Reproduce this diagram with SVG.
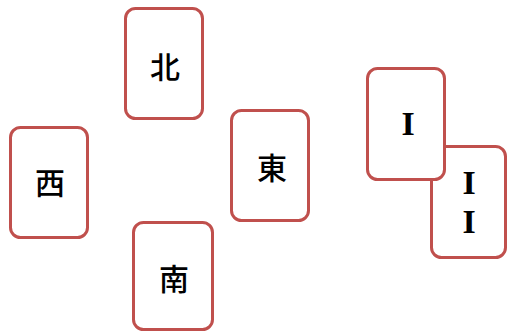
<svg xmlns="http://www.w3.org/2000/svg" width="507" height="335" viewBox="0 0 507 335">
<style>
.card{fill:#ffffff;stroke:#c0504d;stroke-width:3}
.cjk{font-family:"Noto Sans CJK JP","Noto Sans CJK SC",sans-serif;font-size:30px;font-weight:500;fill:#000;text-anchor:middle}
.rom{font-family:"Liberation Serif",serif;font-weight:bold;font-size:34px;fill:#000;text-anchor:middle}
</style>
<rect width="507" height="335" fill="#ffffff"/>
<g id="connectors"></g>
<g id="north">
<rect class="card" x="125.5" y="8.5" width="77" height="110" rx="10"/>
<text class="cjk" x="165" y="78.4">北</text>
</g>
<g id="west">
<rect class="card" x="10.5" y="127.5" width="77" height="110" rx="10"/>
<text class="cjk" x="50" y="194.4">西</text>
</g>
<g id="east">
<rect class="card" x="231.5" y="110.5" width="77" height="110" rx="10"/>
<text class="cjk" x="272" y="179.4">東</text>
</g>
<g id="south">
<rect class="card" x="133.5" y="222.5" width="79" height="107" rx="10"/>
<text class="cjk" x="174" y="290.4">南</text>
</g>
<g id="card-2">
<rect class="card" x="431.5" y="146.5" width="74" height="111" rx="10"/>
<text class="rom"><tspan x="469" y="194.3">I</tspan><tspan x="469" y="233">I</tspan></text>
</g>
<g id="card-1">
<rect class="card" x="367.5" y="68.5" width="77" height="111" rx="10"/>
<text class="rom" x="408" y="135.3">I</text>
</g>
</svg>
